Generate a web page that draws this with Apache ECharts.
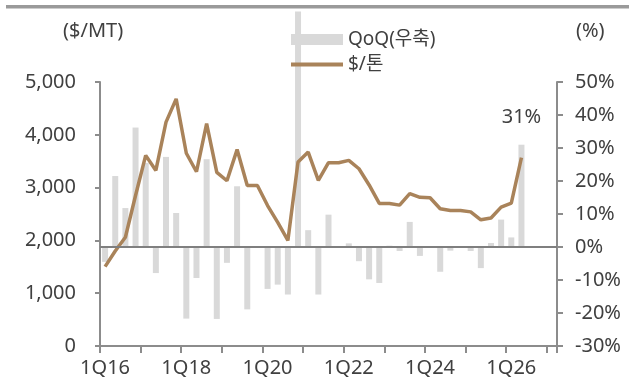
<!DOCTYPE html>
<html>
<head>
<meta charset="utf-8">
<script src="https://cdn.jsdelivr.net/npm/echarts@6/dist/echarts.min.js"></script>
<style>
  html, body { margin: 0; padding: 0; background: #fff; }
  #chart { width: 629px; height: 385px; }
</style>
</head>
<body>
<div id="chart"></div>
<script>
// Quarterly categories, 1Q16 through 1Q27 (data runs to 2Q26)
const categories = [
  '1Q16','2Q16','3Q16','4Q16','1Q17','2Q17','3Q17','4Q17',
  '1Q18','2Q18','3Q18','4Q18','1Q19','2Q19','3Q19','4Q19',
  '1Q20','2Q20','3Q20','4Q20','1Q21','2Q21','3Q21','4Q21',
  '1Q22','2Q22','3Q22','4Q22','1Q23','2Q23','3Q23','4Q23',
  '1Q24','2Q24','3Q24','4Q24','1Q25','2Q25','3Q25','4Q25',
  '1Q26','2Q26','3Q26','4Q26','1Q27'
];

// Price, $ per metric ton (left axis)
const pricePerTon = [
  1503, 1800, 2060, 2850, 3610, 3325, 4240, 4680,
  3650, 3300, 4210, 3290, 3130, 3720, 3040, 3040,
  2660, 2340, 2000, 3483, 3673, 3136, 3471, 3471,
  3515, 3357, 3050, 2700, 2700, 2668, 2885, 2815,
  2807, 2600, 2568, 2566, 2540, 2390, 2425, 2630,
  2705, 3566
];

// Quarter-on-quarter change, % (right axis)
const qoqPct = [
  -4.5, 21.5, 11.8, 36.2, 25.5, -7.9, 27.3, 10.3,
  -21.7, -9.4, 26.6, -21.8, -4.8, 18.4, -18.9, 0,
  -12.7, -11.4, -14.4, 71.4, 5.1, -14.4, 9.8, 0,
  1.1, -4.3, -9.8, -10.9, 0.4, -1.2, 7.6, -2.7,
  0, -7.5, -1.1, 0, -1.2, -6.4, 1.2, 8.3,
  2.9, 31
];

const leftTicks = { min: 0, max: 5000, interval: 1000 };
const rightTicks = { min: -30, max: 50, interval: 10 };
const seriesNames = ['QoQ(우축)', '$/톤'];

const FONT = '"Noto Sans", "Noto Sans CJK KR", sans-serif';
const TEXT = '#404040';
const AXIS = '#8c8c8c';
const LINE_COLOR = '#a9835a';
const lastIdx = qoqPct.length - 1;

const legendText = { fontFamily: FONT, fontSize: 19, color: TEXT };

const chart = echarts.init(document.getElementById('chart'), null, { renderer: 'canvas' });

chart.setOption({
  animation: false,
  textStyle: { fontFamily: FONT, color: TEXT },
  grid: { left: 100, right: 72, top: 82, bottom: 39, containLabel: false },
  graphic: [
    { type: 'rect', left: 6, top: 5, shape: { width: 623, height: 3.5 }, style: { fill: '#9a9a9a' }, silent: true },
    { type: 'text', left: 63, top: 21, style: { text: '($/MT)', font: '20px ' + FONT, fill: TEXT } },
    { type: 'text', left: 576, top: 21, style: { text: '(%)', font: '20px ' + FONT, fill: TEXT } }
  ],
  legend: [
    {
      data: [seriesNames[0]],
      left: 286, top: 25,
      itemWidth: 52, itemHeight: 11,
      icon: 'rect',
      textStyle: legendText,
      selectedMode: false
    },
    {
      data: [seriesNames[1]],
      left: 286, top: 50,
      itemWidth: 52, itemHeight: 4,
      icon: 'rect',
      textStyle: legendText,
      selectedMode: false
    }
  ],
  xAxis: {
    type: 'category',
    data: categories,
    boundaryGap: true,
    axisLine: { onZero: false, lineStyle: { color: AXIS, width: 2 } },
    axisTick: { show: true, interval: 3, length: 7, lineStyle: { color: AXIS, width: 2 } },
    axisLabel: { interval: 7, margin: 12, fontSize: 20, color: TEXT, fontFamily: FONT },
    splitLine: { show: false }
  },
  yAxis: [
    {
      type: 'value',
      min: leftTicks.min, max: leftTicks.max, interval: leftTicks.interval,
      axisLine: { show: true, lineStyle: { color: AXIS, width: 2 } },
      axisTick: { show: true, length: 5, lineStyle: { color: AXIS, width: 2 } },
      axisLabel: {
        margin: 24, fontSize: 20, color: TEXT, fontFamily: FONT,
        formatter: v => v.toLocaleString('en-US')
      },
      splitLine: { show: false }
    },
    {
      type: 'value',
      position: 'right',
      min: rightTicks.min, max: rightTicks.max, interval: rightTicks.interval,
      axisLine: { show: true, lineStyle: { color: AXIS, width: 2 } },
      axisTick: { show: true, length: 6, lineStyle: { color: AXIS, width: 2 } },
      axisLabel: { margin: 18, fontSize: 20, color: TEXT, fontFamily: FONT, formatter: '{value}%' },
      splitLine: { show: false }
    }
  ],
  series: [
    {
      name: seriesNames[0],
      type: 'bar',
      yAxisIndex: 1,
      barWidth: 6,
      clip: false,
      itemStyle: { color: '#d9d9d9' },
      data: qoqPct.map((v, i) => i === lastIdx
        ? { value: v, label: { show: true, position: 'top', distance: 17, formatter: '{c}%', fontSize: 20, color: TEXT, fontFamily: FONT } }
        : v),
      markLine: {
        silent: true,
        symbol: 'none',
        label: { show: false },
        lineStyle: { color: '#7f7f7f', width: 2, type: 'solid' },
        data: [{ yAxis: 0 }]
      },
      z: 1
    },
    {
      name: seriesNames[1],
      type: 'line',
      yAxisIndex: 0,
      symbol: 'none',
      lineStyle: { color: LINE_COLOR, width: 3.5 },
      itemStyle: { color: LINE_COLOR },
      data: pricePerTon,
      z: 3
    }
  ]
});
</script>
</body>
</html>
